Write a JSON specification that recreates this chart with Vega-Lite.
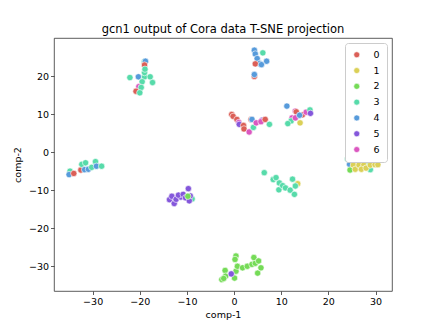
{
  "$schema": "https://vega.github.io/schema/vega-lite/v6.json",
  "autosize": {"type": "none"},
  "width": 338,
  "height": 253,
  "padding": {"left": 54, "top": 38, "right": 44, "bottom": 36},
  "background": "white",
  "title": {"text": "gcn1 output of Cora data T-SNE projection", "fontSize": 11.5, "font": "DejaVu Sans", "fontWeight": "normal", "color": "black", "offset": 3},
  "config": {
    "view": {"stroke": "#333333", "strokeWidth": 0.8},
    "axis": {"grid": false, "domain": false, "tickColor": "#333333", "tickSize": 3.5, "tickWidth": 0.8, "labelFont": "DejaVu Sans", "labelFontSize": 9.5, "labelColor": "black", "titleFont": "DejaVu Sans", "titleFontSize": 9.5, "titleFontWeight": "normal", "titleColor": "black", "labelPadding": 2}
  },
  "data": {"values": [
    {"x": -19.0, "y": 23.8, "c": "3"}, {"x": -18.8, "y": 23.9, "c": "4"}, {"x": -19.0, "y": 22.9, "c": "0"}, {"x": -22.1, "y": 19.6, "c": "3"}, {"x": -20.3, "y": 19.8, "c": "4"}, {"x": -19.0, "y": 19.8, "c": "3"}, {"x": -17.8, "y": 19.8, "c": "3"}, {"x": -19.0, "y": 20.9, "c": "3"}, {"x": -18.9, "y": 21.8, "c": "3"}, {"x": -19.5, "y": 18.5, "c": "3"}, {"x": -17.3, "y": 18.3, "c": "3"}, {"x": -20.2, "y": 17.2, "c": "6"}, {"x": -19.7, "y": 17.0, "c": "3"}, {"x": -20.8, "y": 16.0, "c": "0"}, {"x": -20.0, "y": 15.6, "c": "3"},
    {"x": 4.3, "y": 26.8, "c": "4"}, {"x": 4.5, "y": 25.8, "c": "4"}, {"x": 6.1, "y": 26.1, "c": "3"}, {"x": 4.9, "y": 24.6, "c": "4"}, {"x": 5.4, "y": 23.3, "c": "4"}, {"x": 4.5, "y": 23.2, "c": "0"}, {"x": 6.9, "y": 23.9, "c": "4"}, {"x": 5.8, "y": 23.0, "c": "4"}, {"x": 4.3, "y": 19.9, "c": "0"}, {"x": 4.3, "y": 20.4, "c": "4"},
    {"x": -0.5, "y": 9.9, "c": "0"}, {"x": -0.2, "y": 9.4, "c": "0"}, {"x": 0.6, "y": 8.6, "c": "0"}, {"x": 1.0, "y": 7.8, "c": "6"}, {"x": 1.1, "y": 7.3, "c": "5"}, {"x": 2.0, "y": 7.0, "c": "0"}, {"x": 2.1, "y": 6.1, "c": "0"}, {"x": 3.2, "y": 5.3, "c": "6"}, {"x": 4.1, "y": 6.5, "c": "3"}, {"x": 3.6, "y": 8.6, "c": "0"}, {"x": 3.8, "y": 8.6, "c": "4"}, {"x": 4.7, "y": 7.7, "c": "6"}, {"x": 6.0, "y": 8.4, "c": "5"}, {"x": 5.7, "y": 8.0, "c": "6"}, {"x": 6.6, "y": 8.6, "c": "0"}, {"x": 7.5, "y": 7.3, "c": "3"},
    {"x": 11.2, "y": 12.1, "c": "4"}, {"x": 13.0, "y": 10.8, "c": "6"}, {"x": 13.2, "y": 10.6, "c": "0"}, {"x": 12.3, "y": 9.0, "c": "6"}, {"x": 12.1, "y": 8.2, "c": "3"}, {"x": 11.4, "y": 7.5, "c": "3"}, {"x": 13.0, "y": 9.0, "c": "6"}, {"x": 14.5, "y": 9.8, "c": "0"}, {"x": 13.9, "y": 9.7, "c": "4"}, {"x": 14.0, "y": 7.7, "c": "1"}, {"x": 15.3, "y": 10.5, "c": "6"}, {"x": 16.1, "y": 11.1, "c": "3"}, {"x": 16.2, "y": 10.2, "c": "5"},
    {"x": -34.8, "y": -5.0, "c": "3"}, {"x": -35.0, "y": -5.9, "c": "4"}, {"x": -34.0, "y": -5.6, "c": "0"}, {"x": -32.5, "y": -4.7, "c": "0"}, {"x": -32.3, "y": -3.2, "c": "3"}, {"x": -31.5, "y": -2.8, "c": "3"}, {"x": -31.7, "y": -4.6, "c": "4"}, {"x": -30.9, "y": -4.5, "c": "4"}, {"x": -30.2, "y": -4.0, "c": "3"}, {"x": -29.4, "y": -2.5, "c": "3"}, {"x": -29.2, "y": -3.7, "c": "4"}, {"x": -28.1, "y": -3.7, "c": "3"},
    {"x": 24.1, "y": -1.8, "c": "3"}, {"x": 24.5, "y": -3.2, "c": "4"}, {"x": 24.6, "y": -4.7, "c": "2"}, {"x": 25.9, "y": -2.3, "c": "0"}, {"x": 25.3, "y": -3.4, "c": "1"}, {"x": 25.7, "y": -4.5, "c": "1"}, {"x": 26.5, "y": -3.4, "c": "1"}, {"x": 27.5, "y": -0.8, "c": "0"}, {"x": 27.9, "y": -1.4, "c": "0"}, {"x": 28.3, "y": -2.6, "c": "3"}, {"x": 27.5, "y": -3.4, "c": "1"}, {"x": 27.0, "y": -4.5, "c": "1"}, {"x": 28.9, "y": -4.6, "c": "3"}, {"x": 28.0, "y": -4.2, "c": "1"}, {"x": 28.9, "y": -3.4, "c": "1"}, {"x": 29.9, "y": -3.3, "c": "1"}, {"x": 30.5, "y": -3.3, "c": "1"},
    {"x": -13.7, "y": -12.5, "c": "5"}, {"x": -13.2, "y": -11.6, "c": "5"}, {"x": -12.7, "y": -13.5, "c": "5"}, {"x": -12.3, "y": -12.4, "c": "5"}, {"x": -11.3, "y": -11.8, "c": "5"}, {"x": -11.8, "y": -11.3, "c": "5"}, {"x": -10.8, "y": -11.1, "c": "5"}, {"x": -10.3, "y": -12.0, "c": "5"}, {"x": -9.7, "y": -9.6, "c": "5"}, {"x": -8.9, "y": -12.3, "c": "3"}, {"x": -9.3, "y": -11.5, "c": "5"}, {"x": -9.5, "y": -12.8, "c": "5"}, {"x": -9.8, "y": -11.6, "c": "2"},
    {"x": 6.4, "y": -5.4, "c": "3"}, {"x": 8.3, "y": -7.2, "c": "3"}, {"x": 8.9, "y": -6.7, "c": "3"}, {"x": 9.6, "y": -8.1, "c": "3"}, {"x": 9.5, "y": -9.9, "c": "3"}, {"x": 10.3, "y": -8.8, "c": "3"}, {"x": 10.9, "y": -9.4, "c": "3"}, {"x": 11.9, "y": -10.0, "c": "3"}, {"x": 12.4, "y": -7.1, "c": "3"}, {"x": 13.5, "y": -8.3, "c": "1"}, {"x": 13.0, "y": -8.9, "c": "3"}, {"x": 12.8, "y": -11.1, "c": "3"},
    {"x": 0.4, "y": -27.3, "c": "2"}, {"x": 0.2, "y": -28.2, "c": "2"}, {"x": -1.9, "y": -31.1, "c": "2"}, {"x": -1.8, "y": -32.6, "c": "2"}, {"x": -2.6, "y": -33.5, "c": "2"}, {"x": -2.2, "y": -33.2, "c": "2"}, {"x": 0.1, "y": -33.1, "c": "2"}, {"x": 0.4, "y": -31.3, "c": "2"}, {"x": 0.7, "y": -30.0, "c": "2"}, {"x": 1.8, "y": -30.4, "c": "2"}, {"x": 2.8, "y": -30.0, "c": "2"}, {"x": 3.8, "y": -29.5, "c": "2"}, {"x": 4.5, "y": -29.2, "c": "2"}, {"x": 4.2, "y": -27.7, "c": "2"}, {"x": 5.2, "y": -28.6, "c": "2"}, {"x": 5.7, "y": -30.4, "c": "2"}, {"x": 5.0, "y": -31.8, "c": "2"}, {"x": -0.6, "y": -32.0, "c": "5"}
  ]},
  "mark": {"type": "circle", "size": 40, "opacity": 1, "stroke": "white", "strokeWidth": 0.6},
  "encoding": {
    "x": {"field": "x", "type": "quantitative", "title": "comp-1", "scale": {"domain": [-38.2, 33.5], "nice": false, "zero": false}, "axis": {"values": [-30, -20, -10, 0, 10, 20, 30], "titlePadding": 3}},
    "y": {"field": "y", "type": "quantitative", "title": "comp-2", "scale": {"domain": [-36.5, 30], "nice": false, "zero": false}, "axis": {"values": [-30, -20, -10, 0, 10, 20], "titlePadding": 6}},
    "color": {"field": "c", "type": "nominal", "scale": {"domain": ["0", "1", "2", "3", "4", "5", "6"], "range": ["#db5f57", "#dbd057", "#75db57", "#57dbaa", "#579bdb", "#8457db", "#db57c0"]},
      "legend": {"title": null, "orient": "top-right", "offset": 5, "padding": 7, "strokeColor": "#cccccc", "fillColor": "white", "cornerRadius": 3, "symbolType": "circle", "symbolSize": 36, "symbolStrokeColor": "white", "symbolStrokeWidth": 0.6, "symbolOpacity": 1, "labelFont": "DejaVu Sans", "labelFontSize": 9.5, "labelColor": "black", "labelOffset": 12, "rowPadding": 4.8}}
  }
}
